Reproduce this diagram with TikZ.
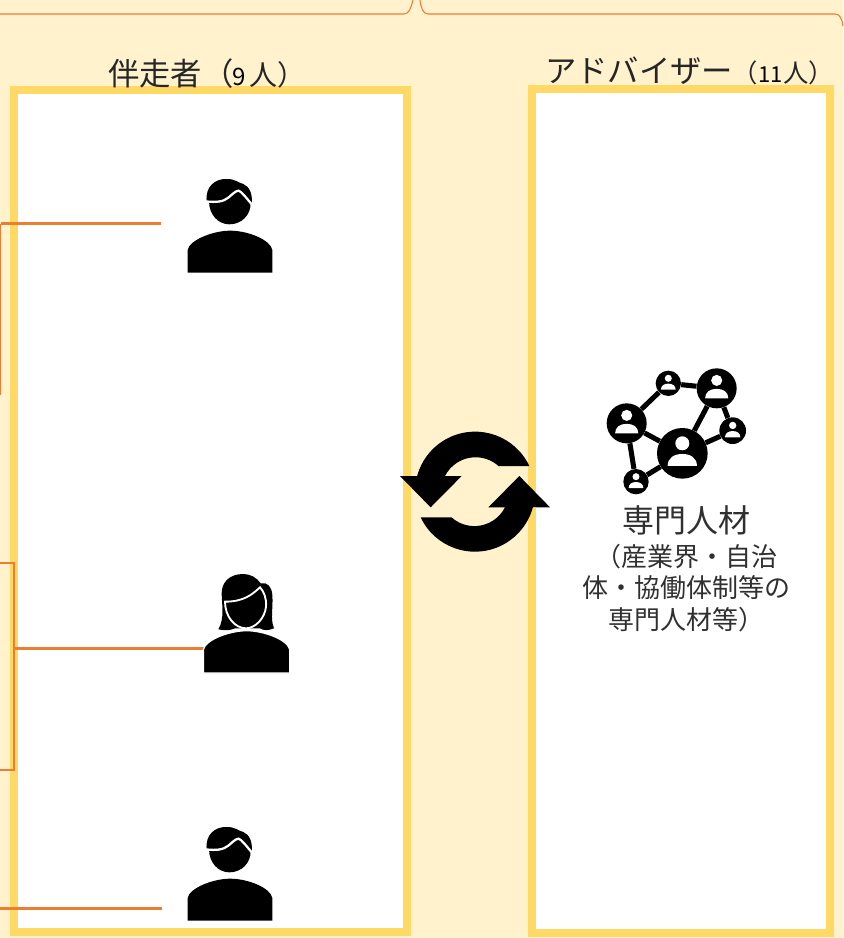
\documentclass[tikz,border=0pt]{standalone}
\usepackage{fontspec}
\setmainfont{Noto Sans CJK JP}[Scale=1]
\tikzset{
  panel/.style={draw=panelyellow,line width=6pt,fill=white},
  wire/.style={draw=wireorange,line width=1.9pt},
  thinwire/.style={draw=wireorange,line width=0.8pt},
  heading/.style={anchor=base west,inner sep=0pt,text=black!85},
  netnode/.style={circle,fill=black,inner sep=0pt},
  netlink/.style={draw=black,line width=3.8pt}
}
\definecolor{bgcream}{HTML}{FFF2CC}
\definecolor{panelyellow}{HTML}{FFD966}
\definecolor{wireorange}{HTML}{ED7D31}
\definecolor{txtgray}{HTML}{303030}
\newcommand{\manicon}[2]{%
 \begin{scope}[shift={(#1,#2)},x=0.25pt,y=-0.25pt]
  \fill (170,125) .. controls (165,80) and (195,55) .. (232,57) .. controls (255,57) and (265,68) .. (280,72) .. controls (300,80) and (308,105) .. (305,130) -- (302,130) .. controls (302,165) and (275,193) .. (238,193) .. controls (205,193) and (178,165) .. (177,125) -- cycle;
  \draw[white,line width=1.7pt] (166,124) .. controls (200,128) and (220,125) .. (235,113) .. controls (250,100) and (258,92) .. (266,92) .. controls (275,95) and (290,115) .. (306,134);
  \fill (113,338) -- (113,270) .. controls (118,240) and (190,212) .. (240,212) .. controls (295,212) and (362,240) .. (367,270) -- (367,338) -- cycle;
 \end{scope}}
\newcommand{\womanicon}[2]{%
 \begin{scope}[shift={(#1,#2)},x=0.25pt,y=-0.25pt]
  \fill (190,42) .. controls (150,42) and (125,65) .. (125,100) .. controls (125,130) and (135,175) .. (115,208) .. controls (135,212) and (150,212) .. (165,205) -- (240,205) .. controls (250,212) and (265,212) .. (282,205) .. controls (270,175) and (280,145) .. (277,105) .. controls (275,80) and (262,65) .. (242,70) .. controls (230,52) and (210,42) .. (190,42) -- cycle;
  \draw[white,line width=1.4pt,fill=black] (135,125) .. controls (190,125) and (215,105) .. (240,82) .. controls (252,95) and (260,115) .. (258,140) .. controls (255,175) and (225,205) .. (198,205) .. controls (165,205) and (135,170) .. (135,125) -- cycle;
  \draw[white,line width=1pt,fill=black] (70,339) -- (70,268) .. controls (78,238) and (150,212) .. (200,212) .. controls (250,212) and (322,238) .. (329,268) -- (329,339) -- cycle;
 \end{scope}}
\newcommand{\netperson}[3]{%
 \begin{scope}[shift={(#1,#2)},x=#3*0.25pt/25.3,y=-#3*0.25pt/25.3]
  \fill[white] (0,-30) circle (21);
  \fill[white] (-44,38) .. controls (-44,14) and (-25,2) .. (0,2) .. controls (25,2) and (44,14) .. (44,38) -- cycle;
 \end{scope}}
\begin{document}
\begin{tikzpicture}[x=0.75pt,y=-0.75pt]
\useasboundingbox (0,0) rectangle (843,938);
\fill[bgcream] (0,0) rectangle (843,938);
% brace fragments
\coordinate (bl0) at (0,14);
\coordinate (bl1) at (413,0);
\coordinate (br0) at (420,0);
\coordinate (br1) at (843,26);
\draw[thinwire] (bl0) -- (404,14) .. controls (409,14) and (411,8) .. (bl1);
\draw[thinwire] (br0) .. controls (421,8) and (423,14) .. (428,14) -- (835,14) .. controls (840,14) and (842,19) .. (br1);
% panels
\path[panel] (14,90) rectangle (407,932);
\path[panel] (532,89) rectangle (830,933);
% headings
\node[heading,font=\fontsize{23.5pt}{26pt}\selectfont] (hl) at (108,86) {伴走者（};
\node[heading,font=\fontsize{18pt}{20pt}\selectfont,text=black] (hl2) at (232,86) {9};
\node[heading,font=\fontsize{21pt}{24pt}\selectfont] (hl3) at (249,86) {人）};
\node[heading,font=\fontsize{23.5pt}{26pt}\selectfont] (hr) at (545,83) {アドバイザー};
\node[heading,font=\fontsize{19pt}{22pt}\selectfont] (hr1) at (732,83) {（};
\node[heading,font=\fontsize{16.5pt}{18pt}\selectfont,text=black] (hr2) at (758,83) {11};
\node[heading,font=\fontsize{19pt}{22pt}\selectfont] (hr3) at (783,83) {人）};
% orange connectors
\coordinate (a0) at (0.5,395);
\coordinate (a1) at (0.5,223.5);
\coordinate (a2) at (161,223.5);
\coordinate (b0) at (0,563);
\coordinate (b1) at (14,563);
\coordinate (b2) at (14,770);
\coordinate (b3) at (0,770);
\coordinate (b4) at (14,648.5);
\coordinate (b5) at (206,648.5);
\coordinate (c0) at (0,908.5);
\coordinate (c1) at (162,908.5);
\draw[thinwire] (a0) -- (a1);
\draw[wire] (a1) -- (a2);
\draw[wire] (b0) -- (b1) -- (b2) -- (b3);
\draw[wire] (b4) -- (b5);
\draw[wire] (c0) -- (c1);
% people
\manicon{150}{160}
\womanicon{180}{560}
\manicon{150}{808}
% cycle arrows
\begin{scope}[shift={(390,420)},x=0.25pt,y=-0.25pt]
 \fill (418,138) arc[start angle=-25.3,end angle=-165,radius=180] -- (30,168) -- (122,262) -- (215,168) -- (165,168) arc[start angle=-153,end angle=-48,radius=103] -- cycle;
 \fill (92,292) arc[start angle=154.7,end angle=15,radius=180] -- (480,262) -- (388,168) -- (295,262) -- (345,262) arc[start angle=27,end angle=132,radius=103] -- cycle;
\end{scope}
% network
\begin{scope}[shift={(595,360)},x=0.25pt,y=-0.25pt]
 \node[netnode,minimum size=38pt] (n1) at (262,280) {};
 \node[netnode,minimum size=30pt] (n2) at (365,85) {};
 \node[netnode,minimum size=30pt] (n3) at (95,190) {};
 \node[netnode,minimum size=19pt] (n4) at (220,70) {};
 \node[netnode,minimum size=20pt] (n5) at (413,212) {};
 \node[netnode,minimum size=19pt] (n6) at (123,365) {};
 \draw[netlink] (n3) -- (n4);
 \draw[netlink] (n4) -- (n2);
 \draw[netlink] (n2) -- (n1);
 \draw[netlink] (n2) -- (n5);
 \draw[netlink] (n5) -- (n1);
 \draw[netlink] (n3) -- (n1);
 \draw[netlink] (n3) -- (n6);
 \draw[netlink] (n6) -- (n1);
\end{scope}
\netperson{682.3}{453.3}{25.3}
\netperson{716.7}{388.3}{20}
\netperson{626.7}{423.3}{20}
\netperson{668.3}{383.3}{12.7}
\netperson{732.7}{430.7}{13.3}
\netperson{636}{481.7}{12.7}
% labels
\node[anchor=base,inner sep=0pt,text=txtgray,font=\fontsize{24pt}{26pt}\selectfont] (tt) at (686,532) {専門人材};
\node[anchor=north,inner sep=0pt,align=center,text=txtgray,font=\fontsize{19.5pt}{23.6pt}\selectfont] (ts) at (686,544) {（産業界・自治\\体・協働体制等の\\専門人材等）};
\end{tikzpicture}
\end{document}
